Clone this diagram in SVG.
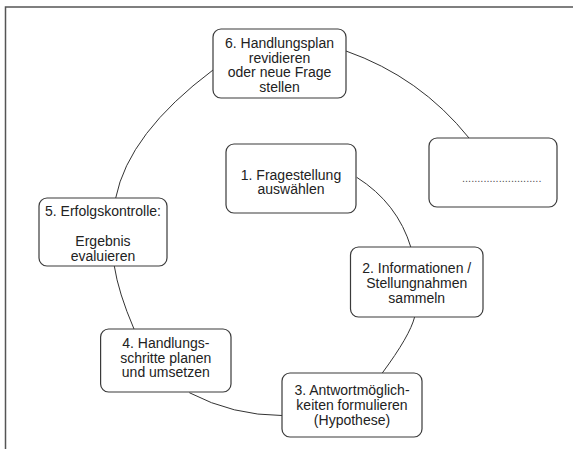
<svg xmlns="http://www.w3.org/2000/svg" width="574" height="449" viewBox="0 0 574 449">
<style>
.box{fill:#fff;stroke:#3a3a3a;stroke-width:1.2}
.lbl{font-family:"Liberation Sans",Arial,sans-serif;font-size:14px;fill:#222;text-anchor:middle}
.con{fill:none;stroke:#333;stroke-width:1}
</style>
<rect width="574" height="449" fill="#fff"/>
<path d="M5.5,449 L5.5,7 L573,7" fill="none" stroke="#555" stroke-width="1.5"/>
<g id="connectors">
<path class="con" d="M346,51 Q420,77 469,138"/>
<path class="con" d="M213,70 Q128.6,133.3 115.7,198"/>
<path class="con" d="M114.3,266 Q118.3,292.4 134,329"/>
<path class="con" d="M189.3,392.7 Q233,415.5 282,415.5"/>
<path class="con" d="M382.3,373 Q409.9,335.7 414.6,317"/>
<path class="con" d="M356.7,177.3 Q397.6,203.1 411,247.7"/>
</g>
<g id="n6">
<rect class="box" x="213" y="29" width="133" height="69" rx="8"/>
<text class="lbl" x="279.5" y="48">6. Handlungsplan</text>
<text class="lbl" x="279.5" y="62.5">revidieren</text>
<text class="lbl" x="279.5" y="77">oder neue Frage</text>
<text class="lbl" x="279.5" y="91.5">stellen</text>
</g>
<g id="nx">
<rect class="box" x="429" y="138" width="128" height="69" rx="8"/>
<text x="462" y="181.5" style="font-family:'Liberation Sans',Arial,sans-serif;font-size:11px;fill:#555">..........................</text>
</g>
<g id="n1">
<rect class="box" x="226" y="144" width="130" height="69" rx="8"/>
<text class="lbl" x="291" y="179.5">1. Fragestellung</text>
<text class="lbl" x="291" y="194">auswählen</text>
</g>
<g id="n5">
<rect class="box" x="39" y="198" width="128" height="68" rx="8"/>
<text class="lbl" x="103" y="216">5. Erfolgskontrolle:</text>
<text class="lbl" x="103" y="246">Ergebnis</text>
<text class="lbl" x="103" y="261">evaluieren</text>
</g>
<g id="n2">
<rect class="box" x="350.5" y="247" width="132.5" height="70" rx="8"/>
<text class="lbl" x="416.75" y="272.5">2. Informationen /</text>
<text class="lbl" x="416.75" y="287.5">Stellungnahmen</text>
<text class="lbl" x="416.75" y="302.5">sammeln</text>
</g>
<g id="n4">
<rect class="box" x="100.6" y="329" width="130.4" height="63" rx="8"/>
<text class="lbl" x="165.8" y="348">4. Handlungs-</text>
<text class="lbl" x="165.8" y="362.5">schritte planen</text>
<text class="lbl" x="165.8" y="377">und umsetzen</text>
</g>
<g id="n3">
<rect class="box" x="282" y="373" width="140" height="64" rx="8"/>
<text class="lbl" x="352" y="395">3. Antwortmöglich-</text>
<text class="lbl" x="352" y="410">keiten formulieren</text>
<text class="lbl" x="352" y="425">(Hypothese)</text>
</g>
</svg>
